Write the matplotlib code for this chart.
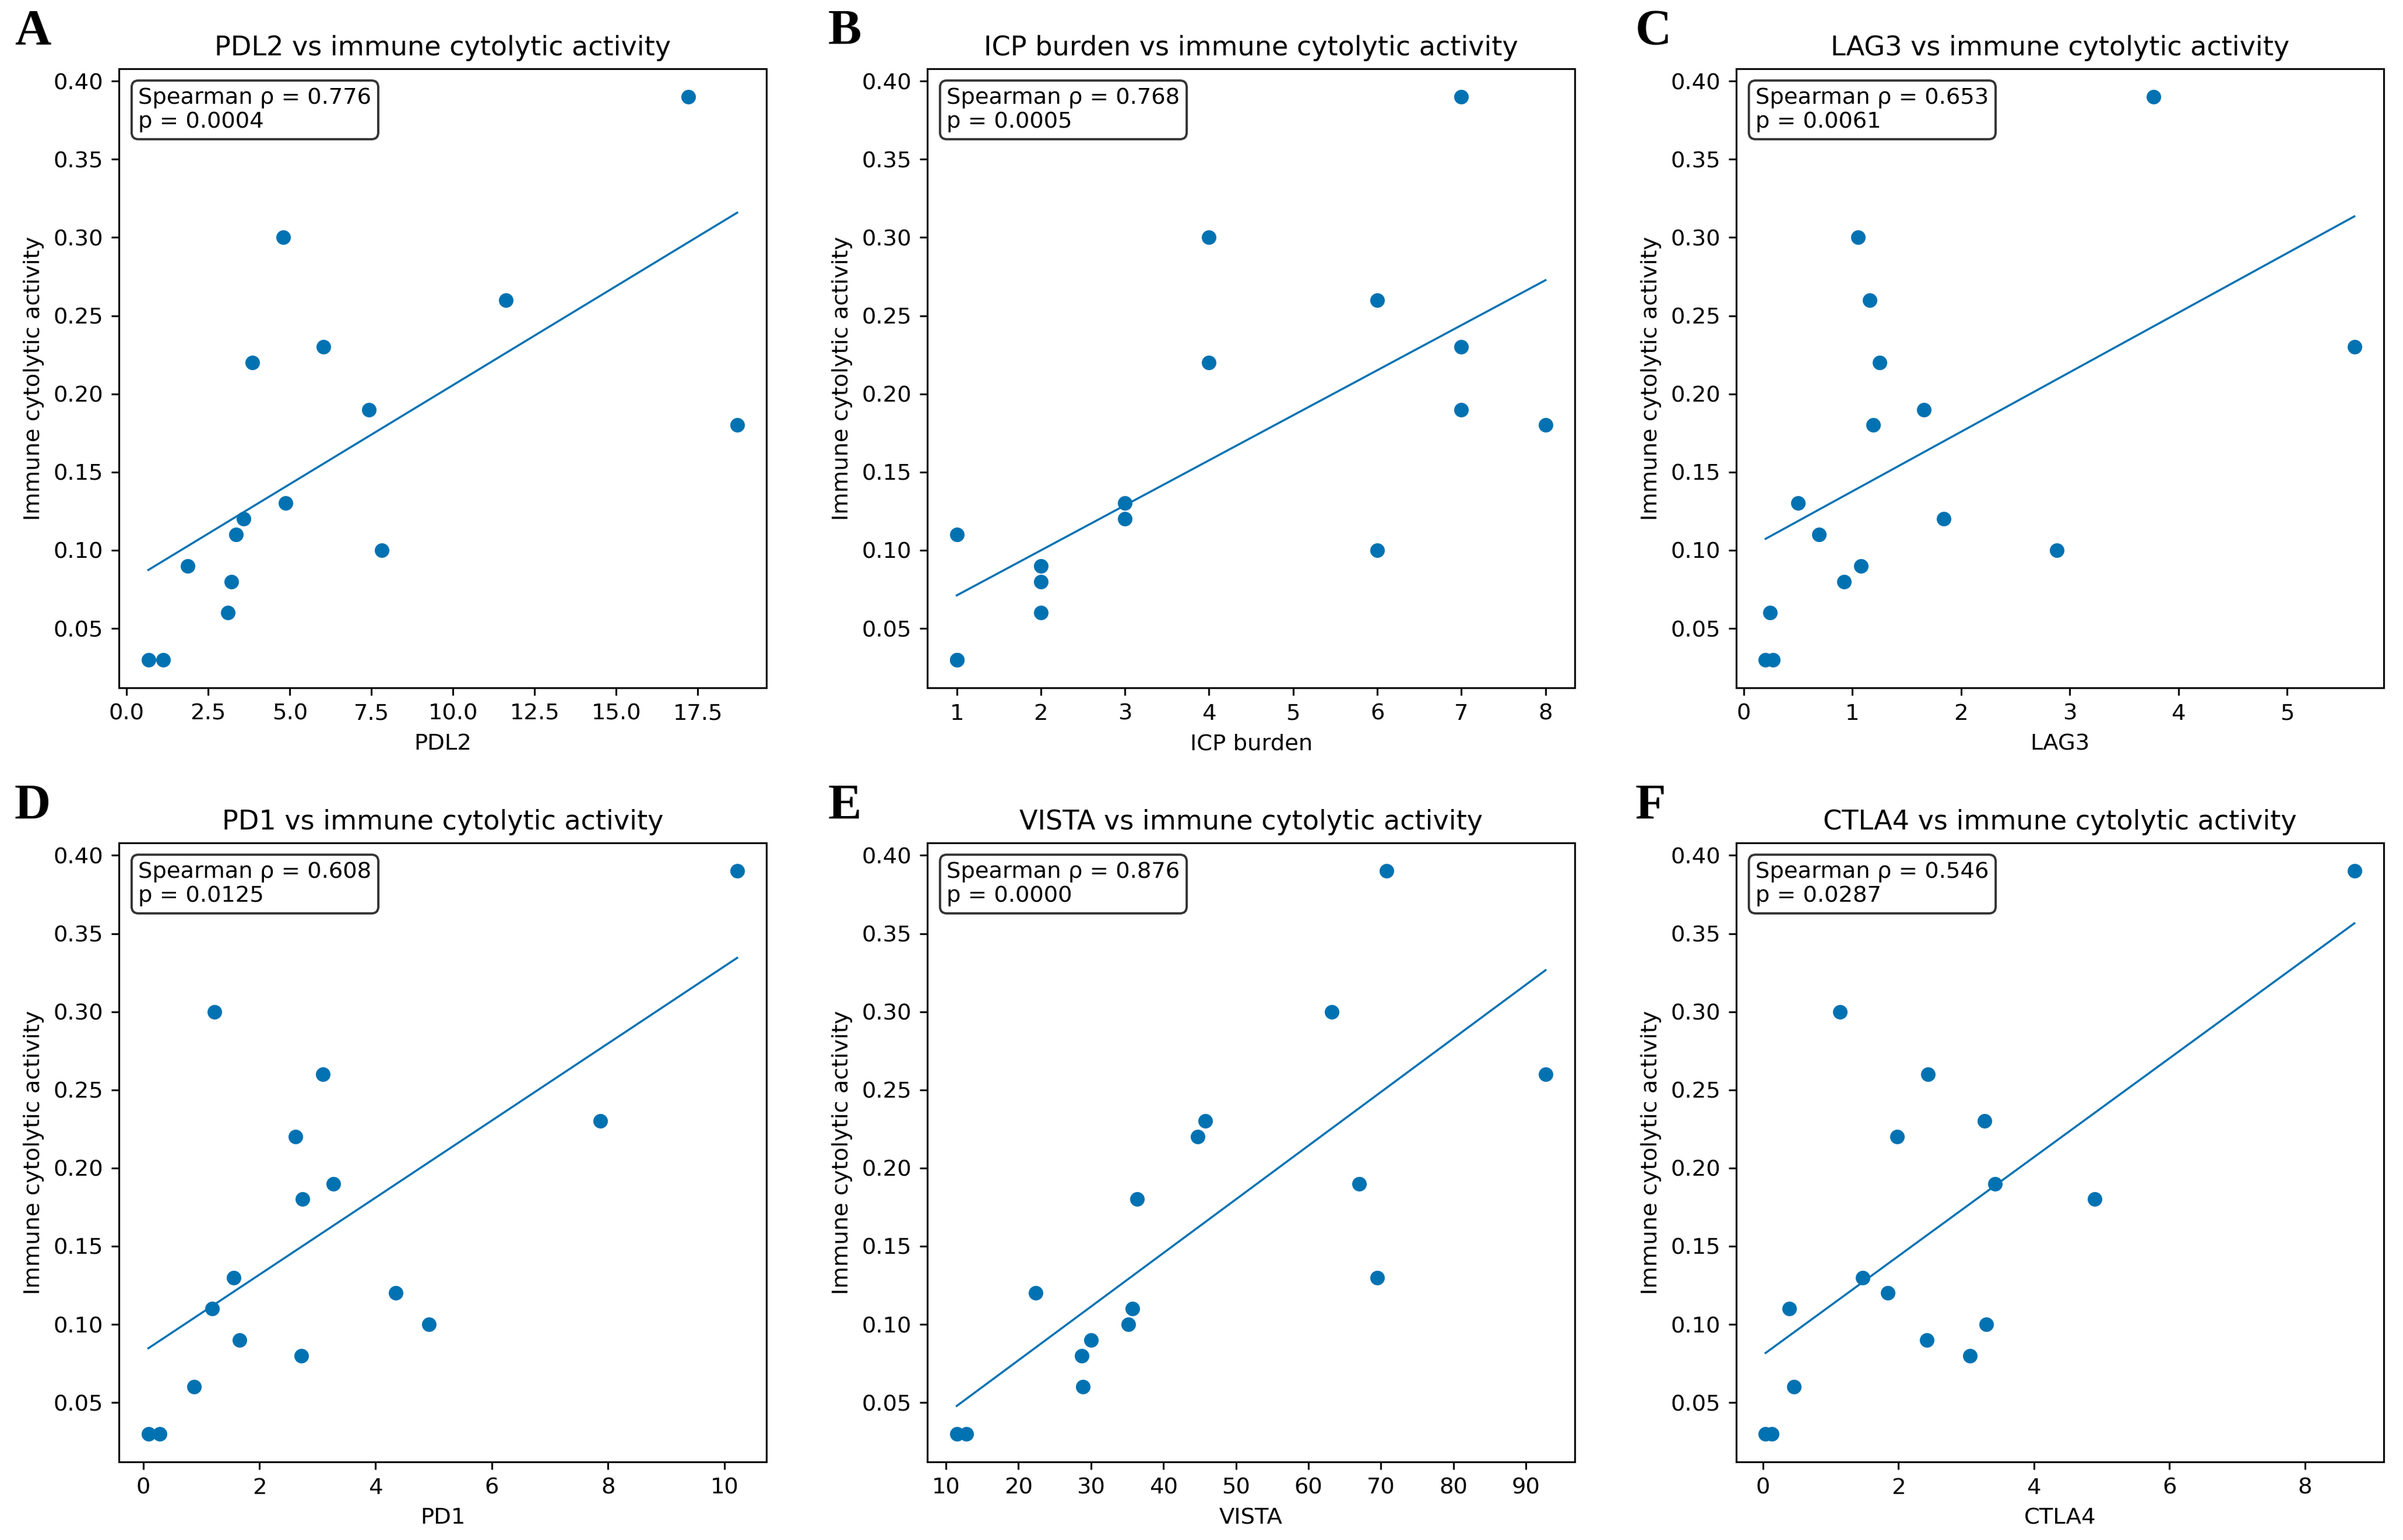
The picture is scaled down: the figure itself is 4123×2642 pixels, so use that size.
import numpy as np
import matplotlib
matplotlib.use('Agg')
import matplotlib.pyplot as plt

# immune cytolytic activity for the 16 samples (same order in every panel)
ica = [0.39, 0.30, 0.26, 0.23, 0.22, 0.19, 0.18, 0.13, 0.12, 0.11, 0.10, 0.09, 0.08, 0.06, 0.03, 0.03]

pdl2 = [17.2, 4.80, 11.62, 6.03, 3.86, 7.42, 18.70, 4.88, 3.58, 3.35, 7.82, 1.88, 3.21, 3.10, 0.67, 1.13]
icp_burden = [7, 4, 6, 7, 4, 7, 8, 3, 3, 1, 6, 2, 2, 2, 1, 1]
lag3 = [3.77, 1.05, 1.16, 5.62, 1.25, 1.66, 1.19, 0.50, 1.84, 0.69, 2.88, 1.08, 0.92, 0.24, 0.20, 0.27]
pd1 = [10.22, 1.23, 3.09, 7.87, 2.62, 3.27, 2.74, 1.56, 4.35, 1.19, 4.92, 1.66, 2.72, 0.88, 0.09, 0.28]
vista = [70.8, 63.2, 92.7, 45.8, 44.7, 67.0, 36.4, 69.5, 22.4, 35.7, 35.2, 30.0, 28.7, 28.9, 11.5, 12.8]
ctla4 = [8.73, 1.14, 2.44, 3.27, 1.98, 3.43, 4.90, 1.47, 1.84, 0.39, 3.30, 2.42, 3.06, 0.46, 0.04, 0.13]

names = ['PDL2', 'ICP burden', 'LAG3', 'PD1', 'VISTA', 'CTLA4']
xs = [pdl2, icp_burden, lag3, pd1, vista, ctla4]
rhos = ['0.776', '0.768', '0.653', '0.608', '0.876', '0.546']
pvals = ['0.0004', '0.0005', '0.0061', '0.0125', '0.0000', '0.0287']
letters = ['A', 'B', 'C', 'D', 'E', 'F']

S = 2.77  # scale for font sizes (fig drawn at dpi 100)
col = '#0072B2'

fig = plt.figure(figsize=(41.23, 26.42), dpi=100)

lefts = [0.0495, 0.3859, 0.7225]
bottoms = [0.5534, 0.0507]
w, h = 0.2695, 0.402
letter_x = [0.006, 0.3445, 0.6805]
letter_y = [0.994, 0.491]

for i in range(6):
    r, c = i // 3, i % 3
    ax = fig.add_axes([lefts[c], bottoms[r], w, h])
    x = np.array(xs[i], dtype=float)
    y = np.array(ica)
    # marker ~25 px across, line ~3.5 px (1 pt = 1.389 px at dpi 100... use points: px*0.72)
    ax.scatter(x, y, s=(25 * 0.72) ** 2, color=col, zorder=3, linewidths=0)
    k, b = np.polyfit(x, y, 1)
    xl = np.array([x.min(), x.max()])
    ax.plot(xl, k * xl + b, color=col, lw=3.5 * 0.72)
    ax.set_title(names[i] + ' vs immune cytolytic activity', fontsize=12 * S, pad=6 * S)
    ax.set_xlabel(names[i], fontsize=10 * S, labelpad=4 * S)
    ax.set_ylabel('Immune cytolytic activity', fontsize=10 * S, labelpad=4 * S)
    ax.tick_params(labelsize=10 * S, width=0.8 * S, length=3.5 * S, pad=3.5 * S)
    for sp in ax.spines.values():
        sp.set_linewidth(0.8 * S)
    ax.text(0.03, 0.97, 'Spearman ρ = ' + rhos[i] + '\np = ' + pvals[i],
            transform=ax.transAxes, va='top', ha='left', fontsize=10 * S,
            bbox=dict(boxstyle='round', facecolor='white', alpha=0.8, linewidth=1 * S))
    fig.text(letter_x[c], letter_y[r], letters[i], fontsize=62, fontweight='bold',
             family='Liberation Serif', va='top', ha='left')

plt.savefig('out.png', dpi=100)
